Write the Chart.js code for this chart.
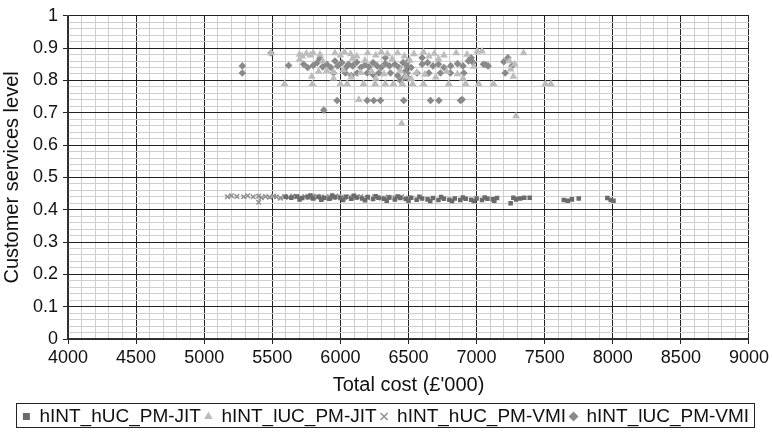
<!DOCTYPE html>
<html>
<head>
<meta charset="utf-8">
<script src="https://cdn.jsdelivr.net/npm/chart.js@4.4.1/dist/chart.umd.min.js"></script>
<style>
  html, body { margin: 0; padding: 0; background: #fff; }
  #wrap { width: 772px; height: 439px; }
</style>
</head>
<body>
<div id="wrap"><canvas id="costChart" width="772" height="439"></canvas></div>
<script>
// axis ranges
const xRange = [4000, 9000];
const yRange = [0, 1];

// series names
const seriesNames = ['hINT_hUC_PM-JIT', 'hINT_lUC_PM-JIT', 'hINT_hUC_PM-VMI', 'hINT_lUC_PM-VMI'];

// hINT_hUC_PM-JIT (squares, lower band)
const hucJit = [
  [5600,0.440],[5640,0.437],[5680,0.441],[5720,0.436],[5760,0.439],[5800,0.435],[5840,0.440],[5880,0.437],
  [5920,0.434],[5960,0.439],[6000,0.436],[6040,0.440],[6080,0.434],[6120,0.438],[6160,0.435],[6200,0.439],
  [6240,0.433],[6280,0.437],[6320,0.434],[6360,0.438],[6400,0.432],[6440,0.436],[6480,0.433],[6520,0.437],
  [6560,0.431],[6600,0.435],[6640,0.432],[6680,0.436],[6720,0.430],[6760,0.434],[6800,0.431],[6840,0.435],
  [6880,0.430],[6920,0.434],[6960,0.431],[7000,0.435],[7040,0.430],[7080,0.434],[7120,0.432],[7150,0.436],
  [5700,0.432],[5780,0.444],[5860,0.431],[5940,0.444],[6020,0.430],[6100,0.443],[6180,0.429],[6260,0.442],
  [6340,0.428],[6420,0.441],[6500,0.428],[6580,0.440],[6660,0.427],[6740,0.439],[6820,0.427],[6900,0.438],
  [6980,0.427],[7060,0.438],[7130,0.428],
  [7250,0.420],[7270,0.437],[7290,0.432],[7320,0.435],[7350,0.437],[7390,0.437],
  [7640,0.430],[7670,0.428],[7700,0.432],[7750,0.435],[7960,0.436],[7985,0.430],[8005,0.428]
];

// hINT_lUC_PM-JIT (triangles, upper cluster)
const lucJit = [
  [5490,0.885],[5700,0.880],[5720,0.875],[5750,0.883],[5780,0.878],[5800,0.885],[5850,0.880],[5960,0.885],
  [6000,0.878],[6030,0.888],[6075,0.882],[6120,0.875],[6200,0.885],[6260,0.878],[6300,0.888],[6345,0.882],
  [6420,0.885],[6470,0.875],[6540,0.882],[6610,0.888],[6650,0.875],[6690,0.883],[6760,0.878],[6850,0.885],
  [6930,0.880],[7005,0.890],[7040,0.890],[7345,0.885],
  [5700,0.865],[5870,0.860],[6090,0.868],[6180,0.862],[6380,0.866],[6510,0.862],[6720,0.866],[6980,0.843],
  [7240,0.860],[7280,0.850],
  [5840,0.828],[5900,0.830],[5950,0.826],[6020,0.832],[6150,0.824],[6230,0.828],[6320,0.820],[6440,0.830],
  [6560,0.824],[6620,0.818],[6780,0.828],[6860,0.820],[7250,0.835],
  [5790,0.812],[5950,0.806],[6080,0.810],[6260,0.806],[6480,0.812],[6520,0.805],[6700,0.810],[6900,0.806],
  [7270,0.812],
  [5590,0.790],[5795,0.790],[6000,0.790],[6050,0.790],[6170,0.790],[6255,0.790],[6330,0.790],[6390,0.790],
  [6455,0.790],[6530,0.790],[6610,0.790],[6795,0.790],[6920,0.790],[7015,0.790],[7125,0.790],[7505,0.790],
  [7545,0.790],
  [6135,0.740],[6450,0.667],[7290,0.690]
];

// hINT_hUC_PM-VMI (crosses, lower band)
const hucVmi = [
  [5170,0.440],[5200,0.443],[5240,0.441],[5290,0.440],[5320,0.443],[5360,0.440],[5400,0.442],[5400,0.423],
  [5420,0.437],[5450,0.441],[5480,0.439],[5510,0.442],[5530,0.440],[5560,0.436],[5590,0.441],[5620,0.438],
  [5650,0.442],[5680,0.440],[5710,0.437],[5740,0.441],[5770,0.439],[5800,0.442],[5830,0.438],[5860,0.440],
  [5890,0.436],[5920,0.441],[5950,0.438],[5990,0.442],[6030,0.437],[6070,0.440],[6110,0.438],[6150,0.441],
  [6200,0.437],[6250,0.440],[6300,0.436],[6350,0.439],[6400,0.437],[6450,0.440],[6500,0.436]
];

// hINT_lUC_PM-VMI (diamonds, upper cluster)
const lucVmi = [
  [5280,0.845],[5280,0.823],[5490,0.885],[5620,0.846],[5730,0.850],[5760,0.840],[5800,0.846],[5830,0.855],
  [5850,0.868],[5870,0.842],[5900,0.850],[5930,0.840],[5960,0.860],[5980,0.845],[6010,0.855],[6040,0.840],
  [6060,0.850],[6090,0.845],[6120,0.856],[6150,0.840],[6180,0.848],[6210,0.842],[6240,0.855],[6270,0.845],
  [6300,0.840],[6330,0.870],[6330,0.852],[6360,0.845],[6400,0.850],[6430,0.840],[6460,0.855],[6490,0.845],
  [6500,0.860],[6520,0.840],[6600,0.870],[6600,0.850],[6640,0.855],[6680,0.845],[6720,0.850],[6760,0.840],
  [6810,0.845],[6860,0.852],[6900,0.845],[6940,0.860],[6960,0.870],[6975,0.855],[7050,0.850],[7070,0.848],
  [7085,0.845],[7200,0.858],[7230,0.870],[7260,0.845],[7210,0.823],
  [5950,0.823],[6037,0.823],[6080,0.815],[6123,0.823],[6197,0.823],[6240,0.818],[6282,0.823],[6368,0.823],
  [6420,0.815],[6440,0.800],[6470,0.810],[6480,0.830],[6490,0.823],[6500,0.805],[6563,0.823],[6649,0.823],
  [6735,0.823],[6808,0.823],[6906,0.823],
  [5976,0.738],[6197,0.738],[6245,0.738],[6294,0.738],[6465,0.738],[6662,0.738],[6723,0.738],[6882,0.738],
  [6894,0.741],[5878,0.708]
];

const toPts = arr => arr.map(p => ({x: p[0], y: p[1]}));

// draw a plain box round the legend items
const legendBox = {
    id: 'legendBox',
    afterDraw(chart) {
        const lg = chart.legend;
        if (!lg || !lg.legendHitBoxes.length) return;
        const boxes = lg.legendHitBoxes;
        const left = Math.min(...boxes.map(b => b.left)) - 7;
        const right = Math.max(...boxes.map(b => b.left + b.width)) + 5;
        const top = Math.min(...boxes.map(b => b.top)) - 4;
        const bottom = Math.max(...boxes.map(b => b.top + b.height)) + 1;
        const c = chart.ctx;
        c.save();
        c.strokeStyle = '#222';
        c.lineWidth = 1;
        c.strokeRect(Math.round(left) + 0.5, Math.round(top) + 0.5, Math.round(right - left), Math.round(bottom - top));
        c.restore();
    }
};

const majorX = v => Math.round(v) % 500 === 0;
const majorY = v => Math.round(v * 50) % 5 === 0;

const ctx = document.getElementById('costChart').getContext('2d');
new Chart(ctx, {
    type: 'scatter',
    data: {
        datasets: [
            {
                label: seriesNames[0],
                data: toPts(hucJit),
                pointStyle: 'rect',
                pointRadius: 3.2,
                backgroundColor: '#6b6b6b',
                borderColor: '#6b6b6b',
                borderWidth: 0
            },
            {
                label: seriesNames[1],
                data: toPts(lucJit),
                pointStyle: 'triangle',
                pointRadius: 4.5,
                backgroundColor: '#bcbcbc',
                borderColor: '#bcbcbc',
                borderWidth: 0
            },
            {
                label: seriesNames[2],
                data: toPts(hucVmi),
                pointStyle: 'crossRot',
                pointRadius: 3.2,
                backgroundColor: '#8f8f8f',
                borderColor: '#8f8f8f',
                borderWidth: 1.5
            },
            {
                label: seriesNames[3],
                data: toPts(lucVmi),
                pointStyle: 'rectRot',
                pointRadius: 3.8,
                backgroundColor: '#8a8a8a',
                borderColor: '#8a8a8a',
                borderWidth: 0
            }
        ]
    },
    options: {
        responsive: false,
        animation: false,
        layout: {
            padding: { top: 6, right: 0, bottom: 3, left: 0 }
        },
        plugins: {
            legend: {
                position: 'bottom',
                labels: {
                    usePointStyle: true,
                    boxWidth: 7,
                    boxHeight: 7,
                    padding: 4,
                    color: '#111',
                    font: { family: 'Liberation Sans', size: 19 }
                }
            },
            tooltip: { enabled: false }
        },
        scales: {
            x: {
                type: 'linear',
                min: xRange[0],
                max: xRange[1],
                title: {
                    display: true,
                    text: 'Total cost (£\'000)',
                    color: '#111',
                    font: { family: 'Liberation Sans', size: 20 },
                    padding: { top: 2, bottom: 6 }
                },
                ticks: {
                    stepSize: 100,
                    autoSkip: false,
                    maxRotation: 0,
                    minRotation: 0,
                    padding: 3,
                    color: '#111',
                    font: { family: 'Liberation Sans', size: 18 },
                    callback: v => majorX(v) ? String(Math.round(v)) : ''
                },
                grid: {
                    color: c => majorX(c.tick.value) ? '#222' : '#cfcfcf',
                    tickColor: c => majorX(c.tick.value) ? '#222' : 'rgba(0,0,0,0)',
                    tickLength: 5,
                    lineWidth: 1
                },
                border: { color: '#333', width: 1.5 },
                afterFit: s => { s.height = 64; }
            },
            y: {
                type: 'linear',
                min: yRange[0],
                max: yRange[1],
                title: {
                    display: true,
                    text: 'Customer services level',
                    color: '#111',
                    font: { family: 'Liberation Sans', size: 20 },
                    padding: { top: 0, bottom: 2 }
                },
                ticks: {
                    stepSize: 0.02,
                    autoSkip: false,
                    padding: 5,
                    color: '#111',
                    font: { family: 'Liberation Sans', size: 18 },
                    callback: v => majorY(v) ? String(Math.round(v * 10) / 10) : ''
                },
                grid: {
                    color: c => majorY(c.tick.value) ? '#222' : '#cfcfcf',
                    tickColor: c => majorY(c.tick.value) ? '#222' : 'rgba(0,0,0,0)',
                    tickLength: 5,
                    lineWidth: 1
                },
                border: { color: '#333', width: 1.5 },
                afterFit: s => { s.width = 68; }
            }
        }
    },
    plugins: [legendBox]
});
</script>
</body>
</html>
